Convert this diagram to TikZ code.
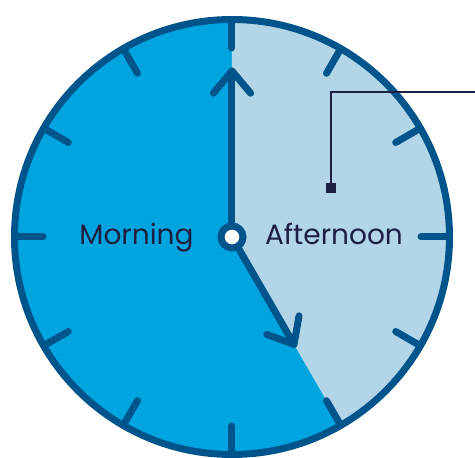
\documentclass[tikz,border=0pt]{standalone}
\usepackage{fontspec}
\setmainfont{Poppins}
\definecolor{bleufonce}{RGB}{0,84,140}
\definecolor{bleuvif}{RGB}{0,165,224}
\definecolor{bleuclair}{RGB}{178,214,232}
\definecolor{marine}{RGB}{28,31,66}
\usepackage{tikz}
\usetikzlibrary{calc}
\begin{document}
\begin{tikzpicture}[x=1pt,y=1pt,
	aiguille/.style={bleufonce,line width=7pt,line cap=round,line join=round},
	repere/.style={bleufonce,line width=7pt,line cap=round},
	etiquette/.style={marine,anchor=base,font=\fontsize{28}{33}\selectfont}]
					\useasboundingbox (-232,-221) rectangle (243,237);
					\coordinate (c) at (0,0);
					\fill[bleuvif] (c) circle (217.5);
					\fill[bleuclair] (c) -- (90:217.5) arc[start angle=90,end angle=-60,radius=217.5] -- cycle;
					\foreach \a in {0,30,...,330}
						\draw[repere] (\a:189) -- (\a:217);
					\draw[bleufonce,line width=7pt] (c) circle (217.5);
					\node[etiquette] (matin) at (-95.5,-8) {Morning};
					\node[etiquette] (apres) at (102,-8) {Afternoon};
					% aiguilles
					\coordinate (mtip) at (90:166);
					\coordinate (htip) at (-60:124);
					\draw[aiguille] (c) -- (mtip);
					\draw[aiguille] ($(mtip)+(230:29)$) -- (mtip) -- ($(mtip)+(310:29)$);
					\draw[aiguille] (c) -- (htip);
					\draw[aiguille] ($(htip)+(80:29)$) -- (htip) -- ($(htip)+(160:29)$);
					\draw[bleufonce,line width=7pt,fill=white] (c) circle (11);
					% renvoi
					\node[fill=marine,minimum size=10pt,inner sep=0pt] (pt) at (99,49) {};
					\coordinate (coude) at (99,145);
					\coordinate (bord) at (243,145);
					\draw[marine,line width=2pt] (pt.center) -- (coude) -- (bord);
				\end{tikzpicture}
\end{document}
